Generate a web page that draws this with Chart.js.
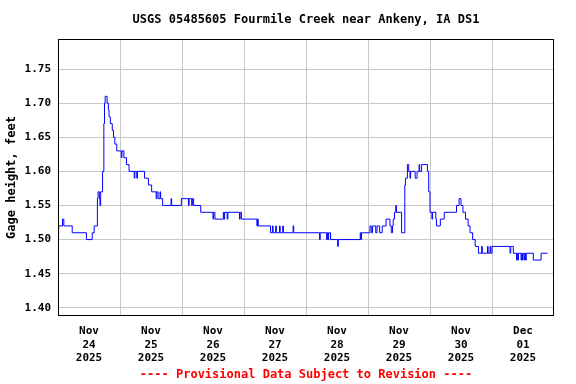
<!DOCTYPE html>
<html>
<head>
<meta charset="utf-8">
<script src="https://cdn.jsdelivr.net/npm/chart.js@4"></script>
<style>
  html, body { margin: 0; padding: 0; background: #fff; }
  #wrap { width: 576px; height: 384px; }
</style>
</head>
<body>
<div id="wrap"><canvas id="myChart" width="576" height="384"></canvas></div>
<script>
// gage height readings, only the times where the value changes (MM-DD HH:MM, 2025)
var times = [
  "11-24 00:00","11-24 00:15","11-24 01:45","11-24 02:15","11-24 05:30","11-24 11:00","11-24 13:15","11-24 14:00",
  "11-24 15:15","11-24 15:30","11-24 16:00","11-24 16:15","11-24 16:30","11-24 17:15","11-24 17:45","11-24 18:00",
  "11-24 18:15","11-24 19:00","11-24 19:30","11-24 19:45","11-24 20:15","11-24 21:00","11-24 21:30","11-24 22:00",
  "11-24 22:45",
  "11-25 00:30","11-25 00:45","11-25 01:30","11-25 02:30","11-25 03:30","11-25 05:30","11-25 05:45","11-25 06:30",
  "11-25 06:45","11-25 09:30","11-25 11:00","11-25 12:15","11-25 14:00","11-25 14:15","11-25 14:45","11-25 15:30",
  "11-25 15:45","11-25 16:30","11-25 19:45","11-25 20:00","11-25 23:45",
  "11-26 02:30","11-26 02:45","11-26 03:45","11-26 04:00","11-26 04:30","11-26 07:15","11-26 12:00","11-26 12:15",
  "11-26 12:45","11-26 16:00","11-26 16:15","11-26 16:30","11-26 17:30","11-26 17:45","11-26 22:15","11-26 22:30",
  "11-26 23:00",
  "11-27 05:00","11-27 05:15","11-27 05:30","11-27 10:15","11-27 11:00","11-27 11:15","11-27 12:15","11-27 12:30",
  "11-27 13:45","11-27 14:00","11-27 15:00","11-27 15:15","11-27 19:00","11-27 19:15",
  "11-28 05:15","11-28 05:30","11-28 08:00","11-28 08:15","11-28 08:30","11-28 08:45","11-28 09:30","11-28 12:15",
  "11-28 12:30","11-28 21:00","11-28 21:15","11-28 21:30",
  "11-29 00:45","11-29 01:15","11-29 01:45","11-29 03:00","11-29 03:30","11-29 04:30","11-29 05:30","11-29 07:00",
  "11-29 08:30","11-29 09:00","11-29 09:30","11-29 09:45","11-29 10:15","11-29 10:45","11-29 11:00","11-29 13:00",
  "11-29 14:15","11-29 14:30","11-29 15:15","11-29 15:45","11-29 16:15","11-29 16:30","11-29 18:15","11-29 19:00",
  "11-29 19:45","11-29 20:00","11-29 20:45","11-29 23:00","11-29 23:30",
  "11-30 00:00","11-30 00:45","11-30 01:00","11-30 02:15","11-30 02:30","11-30 04:00","11-30 05:30","11-30 10:15",
  "11-30 11:15","11-30 12:00","11-30 12:45","11-30 13:45","11-30 14:45","11-30 15:30","11-30 16:30","11-30 17:30",
  "11-30 18:45","11-30 20:00","11-30 20:15","11-30 22:15","11-30 22:30","11-30 23:15","11-30 23:30",
  "12-01 00:00","12-01 07:00","12-01 07:15","12-01 08:15","12-01 09:30","12-01 09:45","12-01 10:00","12-01 10:15",
  "12-01 11:15","12-01 11:30","12-01 11:45","12-01 12:00","12-01 12:30","12-01 12:45","12-01 13:00","12-01 13:15",
  "12-01 16:00","12-01 19:00","12-01 21:30"
];
var heights = [
  1.51,1.52,1.53,1.52,1.51,1.50,1.51,1.52,
  1.56,1.57,1.56,1.55,1.57,1.60,1.67,1.70,
  1.71,1.70,1.69,1.68,1.67,1.66,1.65,1.64,
  1.63,
  1.62,1.63,1.62,1.61,1.60,1.59,1.60,1.59,
  1.60,1.59,1.58,1.57,1.56,1.57,1.56,1.57,
  1.56,1.55,1.56,1.55,1.56,
  1.55,1.56,1.55,1.56,1.55,1.54,1.53,1.54,
  1.53,1.54,1.53,1.54,1.53,1.54,1.53,1.54,
  1.53,
  1.52,1.53,1.52,1.51,1.52,1.51,1.52,1.51,
  1.52,1.51,1.52,1.51,1.52,1.51,
  1.50,1.51,1.50,1.51,1.50,1.51,1.50,1.49,
  1.50,1.51,1.50,1.51,
  1.52,1.51,1.52,1.51,1.52,1.51,1.52,1.53,
  1.52,1.51,1.52,1.53,1.54,1.55,1.54,1.51,
  1.58,1.59,1.61,1.60,1.59,1.60,1.59,1.60,
  1.61,1.60,1.61,1.60,1.57,
  1.54,1.53,1.54,1.53,1.52,1.53,1.54,1.55,
  1.56,1.55,1.54,1.53,1.52,1.51,1.50,1.49,
  1.48,1.49,1.48,1.49,1.48,1.49,1.48,
  1.49,1.48,1.49,1.48,1.47,1.48,1.47,1.48,
  1.47,1.48,1.47,1.48,1.47,1.48,1.47,1.48,
  1.47,1.48,1.48
];

var dayMonths = ["Nov","Nov","Nov","Nov","Nov","Nov","Nov","Dec"];
var dayNums = ["24","25","26","27","28","29","30","01"];
var year = "2025";
var yTicks = [1.40,1.45,1.50,1.55,1.60,1.65,1.70,1.75];

var start = Date.UTC(2025,10,24,0,0);
function toHours(s){
  var mo = parseInt(s.substr(0,2),10), d = parseInt(s.substr(3,2),10);
  var hh = parseInt(s.substr(6,2),10), mm = parseInt(s.substr(9,2),10);
  return (Date.UTC(2025,mo-1,d,hh,mm)-start)/3600000;
}
var points = [];
for (let i=0; i<times.length; i++){
  points.push({x: toHours(times[i]), y: heights[i]});
}

var font = "'DejaVu Sans Mono', monospace";

var framePlugin = {
  id: "frame",
  // center title and footnote on the plot area, like the original
  afterLayout: function(chart){
    var a = chart.chartArea;
    chart.boxes.forEach(function(b){
      if (b.options && b.options.text && b.position !== "left" && !b.axis) {
        b.left = a.left;
        b.right = a.right;
        b.width = a.right - a.left;
      }
    });
  },
  afterDraw: function(chart){
    var a = chart.chartArea, ctx = chart.ctx;
    ctx.save();
    ctx.strokeStyle = "#000";
    ctx.lineWidth = 1;
    ctx.strokeRect(Math.round(a.left)+0.5, Math.round(a.top)+0.5,
      Math.round(a.right-a.left)-1, Math.round(a.bottom-a.top)-1);
    ctx.restore();
  }
};

var ctx = document.getElementById("myChart");
var myChart = new Chart(ctx, {
  type: "line",
  data: {
    datasets: [{
      data: points,
      stepped: true,
      borderColor: "#0000ff",
      borderWidth: 1,
      pointRadius: 0,
      fill: false
    }]
  },
  plugins: [framePlugin],
  options: {
    responsive: false,
    animation: false,
    layout: { padding: { left: 0, right: 22, top: 0, bottom: 0 } },
    plugins: {
      legend: { display: false },
      tooltip: { enabled: false },
      title: {
        display: true,
        text: "USGS 05485605 Fourmile Creek near Ankeny, IA DS1",
        color: "#000",
        font: { family: font, size: 12, weight: "bold" },
        padding: { top: 13, bottom: 11.6 },
        align: "center"
      },
      subtitle: {
        display: true,
        position: "bottom",
        text: "---- Provisional Data Subject to Revision ----",
        color: "#ff0000",
        font: { family: font, size: 12, weight: "bold" },
        padding: { top: 1.6, bottom: 2 }
      }
    },
    scales: {
      x: {
        type: "linear",
        min: 0,
        max: 192,
        afterBuildTicks: function(scale){
          var t = [];
          for (let v=0; v<=192; v+=12) t.push({value: v});
          scale.ticks = t;
        },
        afterFit: function(scale){ scale.height = 50; },
        border: { display: false },
        grid: {
          drawTicks: false,
          color: function(c){
            var v = c.tick ? c.tick.value : 0;
            return (v % 24 === 0 && v > 0 && v < 192) ? "#c8c8c8" : "rgba(0,0,0,0)";
          }
        },
        ticks: {
          autoSkip: false,
          maxRotation: 0,
          padding: 9,
          color: "#000",
          font: { family: font, size: 11, weight: "bold", lineHeight: 1.2 },
          callback: function(v){
            if (v % 24 !== 12) return "";
            var i = (v - 12) / 24;
            return [dayMonths[i], dayNums[i], year];
          }
        }
      },
      y: {
        min: 1.388,
        max: 1.794,
        afterBuildTicks: function(scale){
          scale.ticks = yTicks.map(function(v){ return {value: v}; });
        },
        afterFit: function(scale){ scale.width = 58; },
        border: { display: false },
        grid: { drawTicks: false, color: "#c8c8c8" },
        ticks: {
          padding: 7,
          color: "#000",
          font: { family: font, size: 11, weight: "bold" },
          callback: function(v){ return v.toFixed(2); }
        },
        title: {
          display: true,
          text: "Gage height, feet",
          color: "#000",
          font: { family: font, size: 12, weight: "bold" },
          padding: { top: 5, bottom: 0 }
        }
      }
    }
  }
});
</script>
</body>
</html>
